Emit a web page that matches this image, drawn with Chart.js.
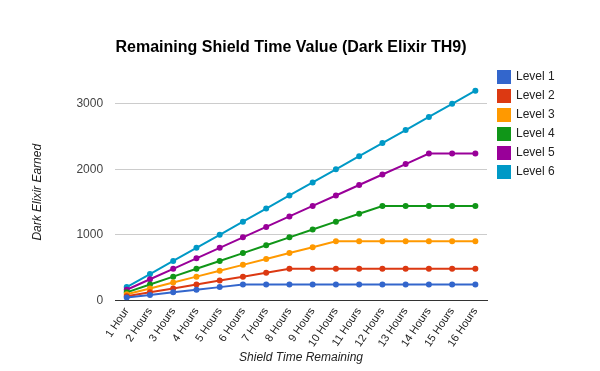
<!DOCTYPE html>
<html>
<head>
<meta charset="utf-8">
<script src="https://cdn.jsdelivr.net/npm/chart.js@4.4.0/dist/chart.umd.min.js"></script>
<style>
  html, body { margin: 0; padding: 0; background: #fff; }
  #wrap { width: 600px; height: 371px; }
</style>
</head>
<body>
<div id="wrap"><canvas id="shieldChart"></canvas></div>
<script>
// Data
const hours = ['1 Hour', '2 Hours', '3 Hours', '4 Hours', '5 Hours', '6 Hours', '7 Hours', '8 Hours',
    '9 Hours', '10 Hours', '11 Hours', '12 Hours', '13 Hours', '14 Hours', '15 Hours', '16 Hours'];
const level1 = [40, 80, 120, 160, 200, 240, 240, 240, 240, 240, 240, 240, 240, 240, 240, 240];
const level2 = [60, 120, 180, 240, 300, 360, 420, 480, 480, 480, 480, 480, 480, 480, 480, 480];
const level3 = [90, 180, 270, 360, 450, 540, 630, 720, 810, 900, 900, 900, 900, 900, 900, 900];
const level4 = [120, 240, 360, 480, 600, 720, 840, 960, 1080, 1200, 1320, 1440, 1440, 1440, 1440, 1440];
const level5 = [160, 320, 480, 640, 800, 960, 1120, 1280, 1440, 1600, 1760, 1920, 2080, 2240, 2240, 2240];
const level6 = [200, 400, 600, 800, 1000, 1200, 1400, 1600, 1800, 2000, 2200, 2400, 2600, 2800, 3000, 3200];
const yTicks = [0, 1000, 2000, 3000];

const seriesNames = ['Level 1', 'Level 2', 'Level 3', 'Level 4', 'Level 5', 'Level 6'];
const seriesData = [level1, level2, level3, level4, level5, level6];
const colors = ['#3366cc', '#dc3912', '#ff9900', '#109618', '#990099', '#0099c6'];

const font = "'Liberation Sans', Arial, sans-serif";

// legend: fixed width, then nudge it and the title to where the reference has them
const placeBlocks = {
    id: 'placeBlocks',
    beforeInit(chart) {
        const origFit = chart.legend.fit;
        chart.legend.fit = function () {
            origFit.bind(chart.legend)();
            this.width = 113;
        };
    },
    afterLayout(chart) {
        const lg = chart.legend;
        const h = lg.bottom - lg.top;
        lg.top = 64;
        lg.bottom = 64 + h;
        lg.left += 4;
        lg.right += 4;
        const tb = chart.titleBlock;
        tb.left -= 24;
        tb.right -= 24;
    }
};

const ctx = document.getElementById('shieldChart').getContext('2d');
new Chart(ctx, {
    type: 'line',
    data: {
        labels: hours,
        datasets: seriesData.map((d, i) => ({
            label: seriesNames[i],
            data: d,
            borderColor: colors[i],
            backgroundColor: colors[i],
            borderWidth: 2,
            pointRadius: 2,
            pointHoverRadius: 3,
            tension: 0,
            fill: false
        }))
    },
    options: {
        responsive: true,
        maintainAspectRatio: false,
        animation: false,
        layout: { padding: { left: 30, right: 0, top: 0, bottom: 6 } },
        plugins: {
            title: {
                display: true,
                text: 'Remaining Shield Time Value (Dark Elixir TH9)',
                color: '#000',
                font: { family: font, size: 16, weight: 'bold' },
                padding: { top: 38, bottom: 27 }
            },
            legend: {
                position: 'right',
                align: 'start',
                fullSize: false,
                labels: {
                    boxWidth: 12,
                    boxHeight: 12,
                    padding: 7,
                    color: '#222',
                    font: { family: font, size: 12 }
                }
            },
            tooltip: { enabled: false }
        },
        scales: {
            x: {
                offset: true,
                grid: { display: false, drawTicks: false },
                border: { display: true, color: '#333', width: 1 },
                ticks: {
                    color: '#222',
                    font: { family: font, size: 11 },
                    minRotation: 56,
                    maxRotation: 56,
                    padding: 5,
                    autoSkip: false
                },
                title: {
                    display: true,
                    text: 'Shield Time Remaining',
                    color: '#222',
                    font: { family: font, size: 12, style: 'italic' },
                    padding: { top: -4, bottom: 0 }
                }
            },
            y: {
                min: 0,
                max: 3300,
                afterBuildTicks(scale) {
                    scale.ticks = yTicks.map(v => ({ value: v }));
                },
                grid: {
                    color: c => c.tick.value === 0 ? '#333' : '#cccccc',
                    drawTicks: false
                },
                border: { display: false },
                ticks: {
                    color: '#444',
                    font: { family: font, size: 12 },
                    padding: 12,
                    callback: v => String(v)
                },
                title: {
                    display: true,
                    text: 'Dark Elixir Earned',
                    color: '#222',
                    font: { family: font, size: 12, style: 'italic' },
                    padding: { top: 0, bottom: 20 }
                }
            }
        }
    },
    plugins: [placeBlocks]
});
</script>
</body>
</html>
